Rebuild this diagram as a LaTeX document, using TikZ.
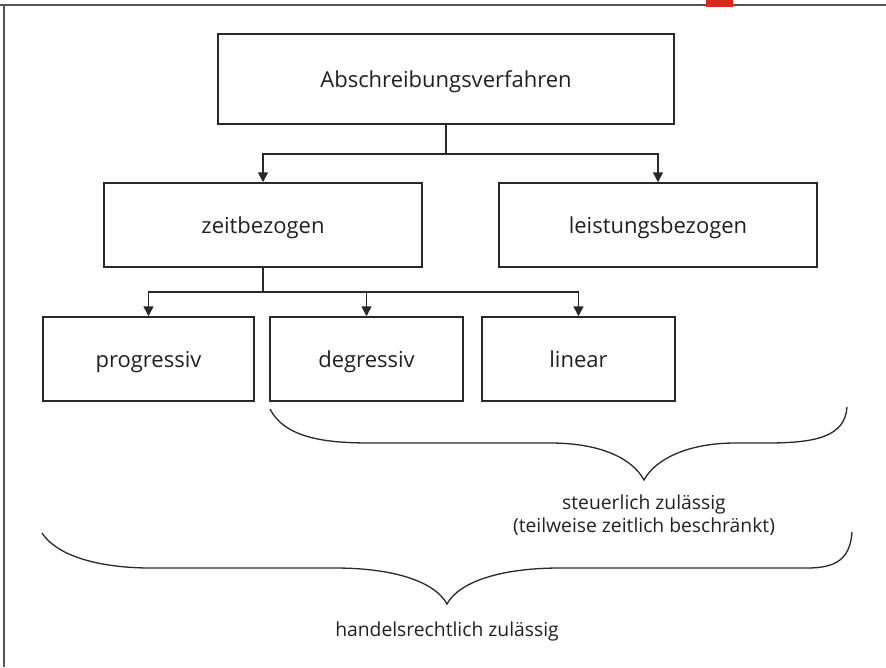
\documentclass[tikz,border=0pt]{standalone}
\usepackage{fontspec}
\setmainfont{Open Sans}
\usetikzlibrary{arrows.meta}
\definecolor{ln}{RGB}{40,40,40}
\definecolor{fr}{RGB}{85,85,85}
\definecolor{tx}{RGB}{35,31,32}
\definecolor{tabred}{RGB}{214,42,30}
\begin{document}
\begin{tikzpicture}[x=1pt,y=-1pt,
  box/.style={draw=ln, line width=1.5pt, inner sep=0pt, text=tx, text depth=0pt,
    font=\fontsize{22}{26}\selectfont},
  conn/.style={draw=ln, line width=1.5pt},
  arr/.style={conn, -{Triangle[length=10pt,width=10pt]}},
  brace/.style={draw=ln, line width=1.3pt},
  lbl/.style={text=tx, align=center, inner sep=0pt,
    font=\fontsize{19.3}{23.5}\selectfont},
  frame/.style={draw=fr, line width=1.6pt}]
\useasboundingbox (0,0) rectangle (886,667);
% frame and tab
\draw[frame] (0,5) -- (886,5);
\draw[frame] (4,5) -- (4,667);
\fill[tabred] (706,0) rectangle (733,7);
% boxes
\node[box, minimum width=456pt, minimum height=90pt] (A) at (446,79) {Abschreibungsverfahren};
\node[box, minimum width=318pt, minimum height=84pt] (Z) at (263,225) {zeitbezogen};
\node[box, minimum width=318pt, minimum height=84pt] (L) at (658,225) {leistungsbezogen};
\node[box, minimum width=211pt, minimum height=84pt] (P) at (148.5,359) {progressiv};
\node[box, minimum width=193pt, minimum height=84pt] (D) at (366.5,359) {degressiv};
\node[box, minimum width=193pt, minimum height=84pt] (N) at (578.5,359) {linear};
% connectors
\coordinate (a1) at (446,154);
\draw[conn] (A.south) -- (a1);
\draw[arr] (a1) -| (Z.north);
\draw[arr] (a1) -| (L.north);
\coordinate (z1) at (263,292);
\draw[conn] (Z.south) -- (z1);
\draw[arr] (z1) -| (P.north);
\draw[arr] (z1) -| (N.north);
\draw[arr] (z1) -| (D.north);
% upper brace
\draw[brace] (270,409) .. controls (285,438) and (325,443) .. (370,443)
  -- (550,443) .. controls (600,443) and (632,458) .. (644,480)
  .. controls (656,458) and (690,443) .. (735,443)
  -- (767,443) .. controls (815,443) and (845,437) .. (847,407);
\node[lbl] (S) at (644,515) {steuerlich zulässig\\(teilweise zeitlich beschränkt)};
% lower brace
\draw[brace] (42,533) .. controls (60,560) and (110,568) .. (150,568)
  -- (335,568) .. controls (395,568) and (435,582) .. (447,604)
  .. controls (459,582) and (500,568) .. (560,568)
  -- (807,568) .. controls (835,568) and (850,560) .. (852,532);
\node[lbl] (H) at (447,631) {handelsrechtlich zulässig};
\end{tikzpicture}
\end{document}
